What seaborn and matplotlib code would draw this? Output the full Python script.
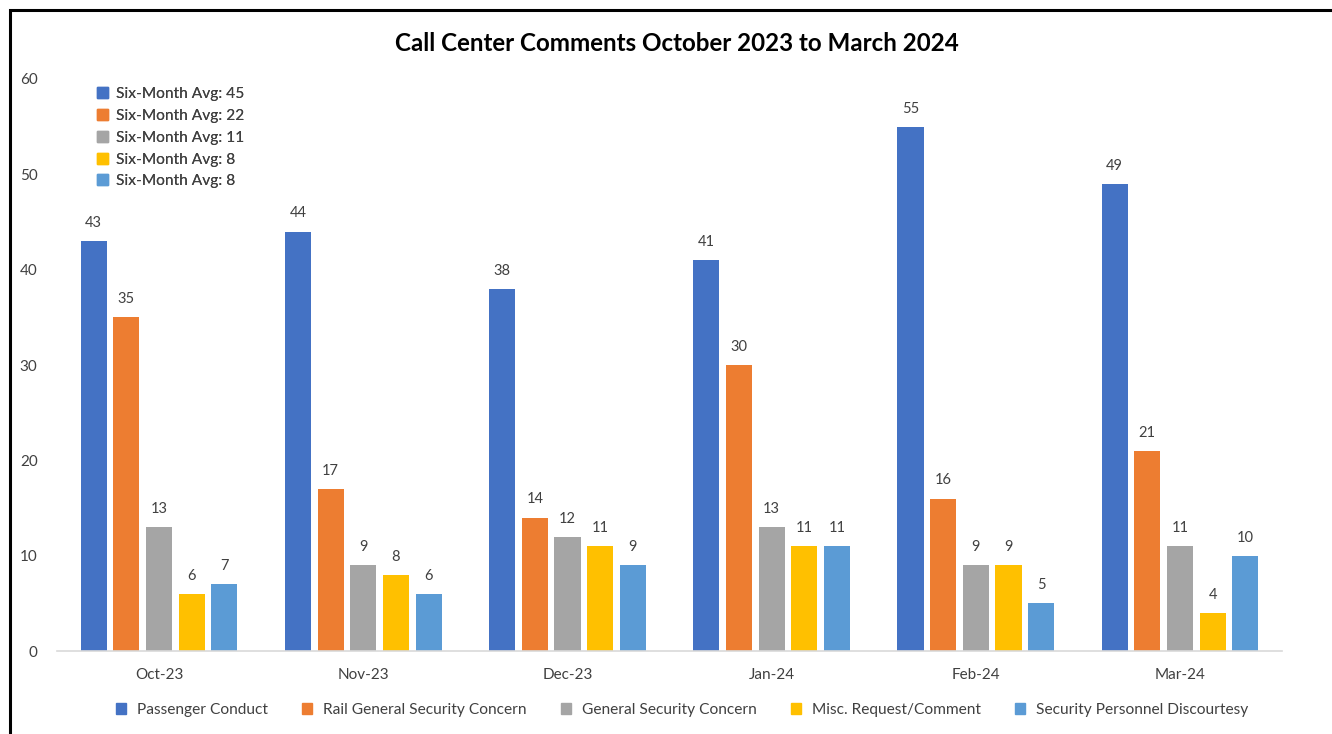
import pandas as pd
import matplotlib.pyplot as plt
import matplotlib.patches as mpatches
import seaborn as sns

# --- data ---
months = ["Oct-23", "Nov-23", "Dec-23", "Jan-24", "Feb-24", "Mar-24"]
comment_types = ["Passenger Conduct", "Rail General Security Concern",
                 "General Security Concern", "Misc. Request/Comment",
                 "Security Personnel Discourtesy"]
passenger_conduct = [43, 44, 38, 41, 55, 49]
rail_security = [35, 17, 14, 30, 16, 21]
general_security = [13, 9, 12, 13, 9, 11]
misc_request = [6, 8, 11, 11, 9, 4]
personnel_discourtesy = [7, 6, 9, 11, 5, 10]
six_month_avg = [45, 22, 11, 8, 8]

colors = ["#4472C4", "#ED7D31", "#A5A5A5", "#FFC000", "#5B9BD5"]

# long table for seaborn
series = [passenger_conduct, rail_security, general_security, misc_request, personnel_discourtesy]
rows = []
for name, vals in zip(comment_types, series):
    for m, v in zip(months, vals):
        rows.append({"month": m, "type": name, "count": v})
df = pd.DataFrame(rows)

sns.set_style("white")
plt.rcParams["font.family"] = ["Lato", "DejaVu Sans"]

fig = plt.figure(figsize=(13.32, 7.34), dpi=100)
ax = fig.add_axes([0.0428, 0.113, 0.9197, 0.7794])

sns.barplot(data=df, x="month", y="count", hue="type", order=months,
            hue_order=comment_types, palette=colors, saturation=1,
            width=0.8, gap=0.2, linewidth=0, legend=False, ax=ax)

for c in ax.containers:
    ax.bar_label(c, padding=8, fontsize=10.5, color="#404040")

ax.set_ylim(0, 60)
ax.set_xlim(-0.5, len(months) - 0.5)
ax.set_yticks(range(0, 61, 10))
ax.set_xlabel("")
ax.set_ylabel("")
ax.tick_params(axis="both", labelsize=11, labelcolor="#404040", length=0)
ax.tick_params(axis="x", pad=12)
ax.tick_params(axis="y", pad=14)
ax.set_xticks([i - 0.5 for i in range(len(months) + 1)], minor=True)
ax.tick_params(axis="x", which="minor", length=5, color="#D9D9D9", width=1)
for s in ["top", "right", "left"]:
    ax.spines[s].set_visible(False)
ax.spines["bottom"].set_color("#D9D9D9")
ax.spines["bottom"].set_linewidth(1.2)

fig.suptitle("Call Center Comments October 2023 to March 2024", x=0.508, y=0.957,
             fontsize=17.4, fontweight="bold", color="black")

# six-month average legend (top left)
avg_handles = [mpatches.Patch(color=c, label=f"Six-Month Avg: {a}")
               for c, a in zip(colors, six_month_avg)]
leg1 = ax.legend(handles=avg_handles, loc="upper left", bbox_to_anchor=(0.021, 1.01),
                 frameon=False, fontsize=11.2, handlelength=0.7, handleheight=0.7,
                 handletextpad=0.55, labelspacing=0.5, labelcolor="#404040")
ax.add_artist(leg1)

# category legend (bottom)
cat_handles = [mpatches.Patch(color=c, label=t) for c, t in zip(colors, comment_types)]
fig.legend(handles=cat_handles, loc="center", bbox_to_anchor=(0.512, 0.033), ncol=5,
           frameon=False, fontsize=11.2, handlelength=0.65, handleheight=0.65,
           handletextpad=0.7, columnspacing=2.2, labelcolor="#404040")

# outer frame (only left and top edges fall inside the picture)
frame = mpatches.Rectangle((10 / 1332, -0.1), 1.2, 1 - 10 / 734 + 0.1,
                           transform=fig.transFigure, fill=False,
                           edgecolor="black", linewidth=2.2, clip_on=False)
fig.add_artist(frame)

fig.savefig("out.png", dpi=100)
